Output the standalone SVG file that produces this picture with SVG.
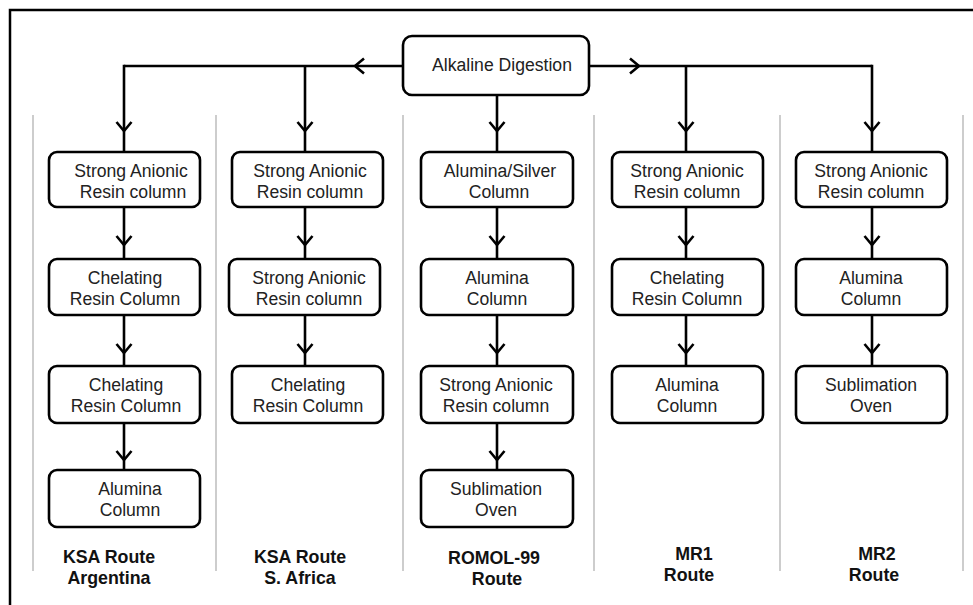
<svg xmlns="http://www.w3.org/2000/svg" width="973" height="605" viewBox="0 0 973 605">
<defs>
<marker id="chev" markerUnits="userSpaceOnUse" markerWidth="20" markerHeight="20" viewBox="-12 -10 14 20" refX="0" refY="0" orient="auto" overflow="visible">
<path d="M-9,-7.5 L0,0 L-9,7.5" fill="none" stroke="#000" stroke-width="2.6" stroke-linejoin="miter"/>
</marker>
</defs>
<style>
.box{fill:#fff;stroke:#000;stroke-width:2.6}
.t{font-family:"Liberation Sans",Arial,sans-serif;font-size:17.6px;fill:#222;text-anchor:middle}
.lab{font-family:"Liberation Sans",Arial,sans-serif;font-size:17.8px;font-weight:bold;fill:#111;text-anchor:middle}
.div{stroke:#bdbdbd;stroke-width:1.5}
.c{fill:none;stroke:#000;stroke-width:2.6;marker-mid:url(#chev)}
.p{fill:none;stroke:#000;stroke-width:2.6}
</style>
<rect width="973" height="605" fill="#fff"/>
<rect x="10" y="10" width="975" height="610" fill="none" stroke="#000" stroke-width="2.5"/>
<g id="dividers">
<line class="div" x1="33" y1="115" x2="33" y2="571"/>
<line class="div" x1="216" y1="115" x2="216" y2="571"/>
<line class="div" x1="403" y1="115" x2="403" y2="571"/>
<line class="div" x1="594" y1="115" x2="594" y2="571"/>
<line class="div" x1="780" y1="115" x2="780" y2="571"/>
<line class="div" x1="963" y1="115" x2="963" y2="571"/>
</g>
<g id="connectors">
<path class="c" d="M403,66 H355 H124"/>
<path class="c" d="M589,66 H639 H872"/>
<path class="p" d="M124,64.7 V66 M872,64.7 V66"/>
<path class="c" d="M124,66 V131 V152"/>
<path class="c" d="M305,66 V131 V152"/>
<path class="c" d="M497,95 V131 V152"/>
<path class="c" d="M686,66 V131 V152"/>
<path class="c" d="M872,66 V131 V152"/>
<path class="c" d="M124,207 V245 V259"/>
<path class="c" d="M124,315 V353 V366"/>
<path class="c" d="M124,423 V460 V470"/>
<path class="c" d="M305,207 V245 V259"/>
<path class="c" d="M305,315 V353 V366"/>
<path class="c" d="M497,207 V245 V259"/>
<path class="c" d="M497,315 V353 V366"/>
<path class="c" d="M497,423 V460 V470"/>
<path class="c" d="M686,207 V245 V259"/>
<path class="c" d="M686,315 V353 V366"/>
<path class="c" d="M872,207 V245 V259"/>
<path class="c" d="M872,315 V353 V366"/>
</g>
<g id="alkaline-digestion">
<rect class="box" x="403" y="36" width="186" height="59" rx="9"/>
<text class="t" x="502" y="71">Alkaline Digestion</text>
</g>
<g id="c1r1"><rect class="box" x="49" y="152" width="151" height="55" rx="8"/><text class="t" x="131" y="177">Strong Anionic</text><text class="t" x="133" y="198">Resin column</text></g>
<g id="c1r2"><rect class="box" x="49" y="259" width="151" height="56" rx="8"/><text class="t" x="125" y="284">Chelating</text><text class="t" x="125" y="305">Resin Column</text></g>
<g id="c1r3"><rect class="box" x="49" y="366" width="151" height="57" rx="8"/><text class="t" x="126" y="391">Chelating</text><text class="t" x="126" y="412">Resin Column</text></g>
<g id="c1r4"><rect class="box" x="49" y="470" width="151" height="57" rx="8"/><text class="t" x="130" y="495">Alumina</text><text class="t" x="130" y="516">Column</text></g>
<g id="c2r1"><rect class="box" x="232" y="152" width="151" height="55" rx="8"/><text class="t" x="310" y="177">Strong Anionic</text><text class="t" x="310" y="198">Resin column</text></g>
<g id="c2r2"><rect class="box" x="229" y="259" width="151" height="56" rx="8"/><text class="t" x="309" y="284">Strong Anionic</text><text class="t" x="309" y="305">Resin column</text></g>
<g id="c2r3"><rect class="box" x="232" y="366" width="151" height="57" rx="8"/><text class="t" x="308" y="391">Chelating</text><text class="t" x="308" y="412">Resin Column</text></g>
<g id="c3r1"><rect class="box" x="421" y="152" width="152" height="55" rx="8"/><text class="t" x="500" y="177">Alumina/Silver</text><text class="t" x="499" y="198">Column</text></g>
<g id="c3r2"><rect class="box" x="421" y="259" width="152" height="56" rx="8"/><text class="t" x="497" y="284">Alumina</text><text class="t" x="497" y="305">Column</text></g>
<g id="c3r3"><rect class="box" x="421" y="366" width="152" height="57" rx="8"/><text class="t" x="496" y="391">Strong Anionic</text><text class="t" x="496" y="412">Resin column</text></g>
<g id="c3r4"><rect class="box" x="421" y="470" width="152" height="57" rx="8"/><text class="t" x="496" y="495">Sublimation</text><text class="t" x="496" y="516">Oven</text></g>
<g id="c4r1"><rect class="box" x="612" y="152" width="151" height="55" rx="8"/><text class="t" x="687" y="177">Strong Anionic</text><text class="t" x="687" y="198">Resin column</text></g>
<g id="c4r2"><rect class="box" x="612" y="259" width="151" height="56" rx="8"/><text class="t" x="687" y="284">Chelating</text><text class="t" x="687" y="305">Resin Column</text></g>
<g id="c4r3"><rect class="box" x="612" y="366" width="151" height="57" rx="8"/><text class="t" x="687" y="391">Alumina</text><text class="t" x="687" y="412">Column</text></g>
<g id="c5r1"><rect class="box" x="796" y="152" width="151" height="55" rx="8"/><text class="t" x="871" y="177">Strong Anionic</text><text class="t" x="871" y="198">Resin column</text></g>
<g id="c5r2"><rect class="box" x="796" y="259" width="151" height="56" rx="8"/><text class="t" x="871" y="284">Alumina</text><text class="t" x="871" y="305">Column</text></g>
<g id="c5r3"><rect class="box" x="796" y="366" width="151" height="57" rx="8"/><text class="t" x="871" y="391">Sublimation</text><text class="t" x="871" y="412">Oven</text></g>
<g id="labels">
<text class="lab" x="109" y="563">KSA Route</text><text class="lab" x="109" y="584">Argentina</text>
<text class="lab" x="300" y="563">KSA Route</text><text class="lab" x="300" y="584">S. Africa</text>
<text class="lab" x="494" y="564">ROMOL-99</text><text class="lab" x="497" y="585">Route</text>
<text class="lab" x="694" y="560">MR1</text><text class="lab" x="689" y="581">Route</text>
<text class="lab" x="877" y="560">MR2</text><text class="lab" x="874" y="581">Route</text>
</g>
</svg>
